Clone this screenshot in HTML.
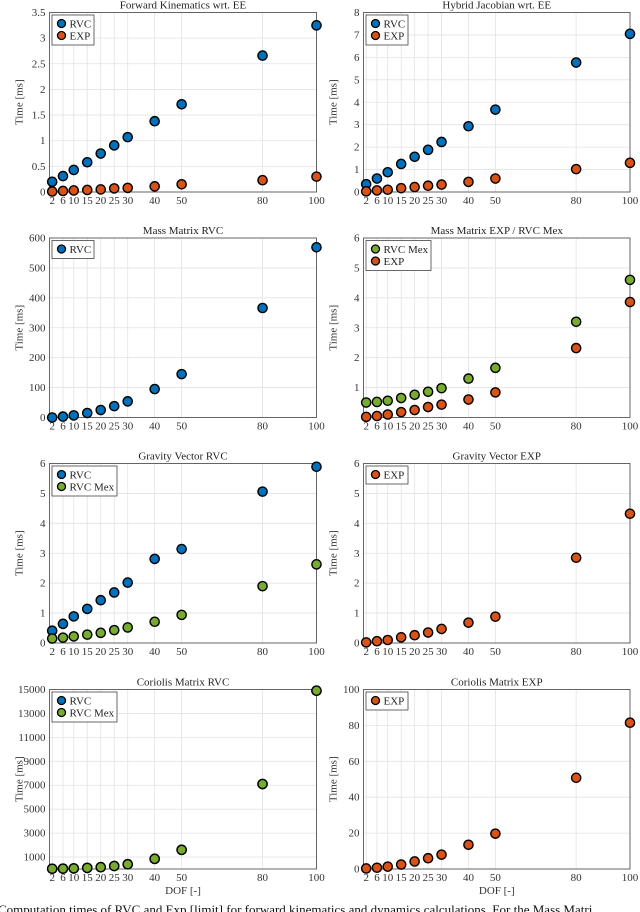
<!DOCTYPE html>
<html><head><meta charset="utf-8"><style>
body{margin:0;background:#fff;}
svg{display:block;}
svg text{font-family:"Liberation Serif","DejaVu Serif",serif;}
</style></head><body>
<svg id="c" width="640" height="912" viewBox="0 0 640 912">
<text x="-2" y="914" font-size="13" fill="#111">Computation times of RVC and Exp [limit] for forward kinematics and dynamics calculations. For the Mass Matri</text>
</svg>
<script>
const dof = [2,6,10,15,20,25,30,40,50,80,100];
const fkRVC = [0.2,0.31,0.43,0.58,0.75,0.91,1.07,1.38,1.71,2.66,3.25];
const fkEXP = [0.01,0.02,0.03,0.04,0.05,0.07,0.08,0.11,0.15,0.23,0.3];
const hjRVC = [0.35,0.6,0.88,1.25,1.57,1.88,2.23,2.93,3.67,5.77,7.05];
const hjEXP = [0.03,0.07,0.1,0.17,0.22,0.28,0.33,0.45,0.6,1.02,1.3];
const mmRVC = [0,3,7,15,25,38,54,95,145,366,569];
const mmMex = [0.5,0.52,0.56,0.65,0.76,0.86,0.98,1.3,1.66,3.2,4.6];
const mmEXP = [0.02,0.05,0.1,0.18,0.25,0.35,0.43,0.6,0.84,2.32,3.86];
const gvRVC = [0.41,0.64,0.89,1.14,1.43,1.69,2.02,2.81,3.14,5.06,5.89];
const gvMex = [0.15,0.18,0.22,0.28,0.34,0.43,0.52,0.71,0.94,1.9,2.63];
const gvEXP = [0.02,0.06,0.1,0.19,0.26,0.35,0.47,0.68,0.88,2.85,4.32];
const coRVC = [20,30,50,90,150,250,400,850,1600,7100,14900];
const coMex = [20,30,50,90,150,250,400,850,1600,7100,14900];
const coEXP = [0.3,0.7,1.3,2.5,4.2,6,8,13.5,19.7,50.8,81.5];
const fkTicks = ["0","0.5","1","1.5","2","2.5","3","3.5"];
const hjTicks = ["0","1","2","3","4","5","6","7","8"];
const mmTicks = ["0","100","200","300","400","500","600"];
const mxTicks = ["1","2","3","4","5","6"];
const gvTicks = ["0","1","2","3","4","5","6"];
const coTicks = ["1000","3000","5000","7000","9000","11000","13000","15000"];
const ceTicks = ["0","20","40","60","80","100"];

const NS="http://www.w3.org/2000/svg";
const svg=document.getElementById('c');
const COL={RVC:'#0072BD',EXP:'#D95319','RVC Mex':'#77AC30'};
function el(t,a,p){const e=document.createElementNS(NS,t);for(const k in a)e.setAttribute(k,a[k]);(p||svg).appendChild(e);return e;}

function plot(o){
  const L=o.col?363.5:49.5, R=o.col?630:316.5, T=o.top, B=o.top+179.5;
  const g=el('g',{});
  
  
  const X=v=>L+(v-1)/(99)*(R-L);
  const Y=v=>B-(v-o.ymin)/(o.ymax-o.ymin)*(B-T);
  dof.forEach(d=>{
    const l=el('line',{x1:X(d),x2:X(d),y1:T,y2:B,stroke:'#e3e3e3','stroke-width':0.8},g);
    
    
    const t=el('text',{x:X(d),y:B+12,'font-size':11,'text-anchor':'middle',fill:'#333'},g);
    t.textContent=d;
    
    
  });
  o.ticks.forEach(s=>{
    const v=parseFloat(s);const y=Y(v);
    const l=el('line',{x1:L,x2:R,y1:y,y2:y,stroke:'#e3e3e3','stroke-width':0.8},g);
    
    
    const t=el('text',{x:L-4,y:y+3.5,'font-size':11,'text-anchor':'end',fill:'#333'},g);
    t.textContent=s;
    
    
  });
  const fr=el('rect',{x:L,y:T,width:R-L,height:B-T,fill:'none',stroke:'#444','stroke-width':0.8},g);
  
  
  const tt=el('text',{x:(L+R)/2,y:T-4,'font-size':11,'text-anchor':'middle',fill:'#222'},g);
  tt.textContent=o.title;
  
  
  const yl=el('text',{x:0,y:0,'font-size':11,'text-anchor':'middle',fill:'#333',transform:`translate(${L-27},${(T+B)/2}) rotate(-90)`},g);
  yl.textContent='Time [ms]';
  
  
  if(o.xlabel){
    const xl=el('text',{x:(L+R)/2,y:B+25,'font-size':11,'text-anchor':'middle',fill:'#333'},g);
    xl.textContent='DOF [-]';
    
    
  }
  o.series.forEach(s=>{
    s.data.forEach((v,i)=>{
      const c=el('circle',{cx:X(dof[i]),cy:Y(v),r:4.6,fill:COL[s.key],stroke:'#000','stroke-width':1.4},g);
      
      
    });
  });
  const lw=o.legend.some(k=>k.length>3)?65:42;
  const lg=el('g',{},g);
  
  
  el('rect',{x:L+2.5,y:T+2.5,width:lw,height:6+o.legend.length*12,fill:'#fff',stroke:'#444','stroke-width':0.8},lg);
  o.legend.forEach((k,i)=>{
    const y=T+11+i*12;
    el('circle',{cx:L+12,cy:y,r:4,fill:COL[k],stroke:'#000','stroke-width':1.3},lg);
    const t=el('text',{x:L+20,y:y+3.8,'font-size':11,fill:'#222'},lg);
    t.textContent=k;
    
    
  });
}
plot({name:'forward-kinematics-plot',col:0,top:12.5,ymin:0,ymax:3.5,ticks:fkTicks,title:'Forward Kinematics wrt. EE',series:[{key:'RVC',data:fkRVC},{key:'EXP',data:fkEXP}],legend:['RVC','EXP']});
plot({name:'hybrid-jacobian-plot',col:1,top:12.5,ymin:0,ymax:8,ticks:hjTicks,title:'Hybrid Jacobian wrt. EE',series:[{key:'RVC',data:hjRVC},{key:'EXP',data:hjEXP}],legend:['RVC','EXP']});
plot({name:'mass-matrix-rvc-plot',col:0,top:238,ymin:0,ymax:600,ticks:mmTicks,title:'Mass Matrix RVC',series:[{key:'RVC',data:mmRVC}],legend:['RVC']});
plot({name:'mass-matrix-exp-plot',col:1,top:238,ymin:0,ymax:6,ticks:mxTicks,title:'Mass Matrix EXP / RVC Mex',series:[{key:'RVC Mex',data:mmMex},{key:'EXP',data:mmEXP}],legend:['RVC Mex','EXP']});
plot({name:'gravity-vector-rvc-plot',col:0,top:463.5,ymin:0,ymax:6,ticks:gvTicks,title:'Gravity Vector RVC',series:[{key:'RVC',data:gvRVC},{key:'RVC Mex',data:gvMex}],legend:['RVC','RVC Mex']});
plot({name:'gravity-vector-exp-plot',col:1,top:463.5,ymin:0,ymax:6,ticks:gvTicks,title:'Gravity Vector EXP',series:[{key:'EXP',data:gvEXP}],legend:['EXP']});
plot({name:'coriolis-rvc-plot',col:0,top:689.5,ymin:0,ymax:15000,ticks:coTicks,title:'Coriolis Matrix RVC',xlabel:1,series:[{key:'RVC',data:coRVC},{key:'RVC Mex',data:coMex}],legend:['RVC','RVC Mex']});
plot({name:'coriolis-exp-plot',col:1,top:689.5,ymin:0,ymax:100,ticks:ceTicks,title:'Coriolis Matrix EXP',xlabel:1,series:[{key:'EXP',data:coEXP}],legend:['EXP']});
</script>
</body></html>
